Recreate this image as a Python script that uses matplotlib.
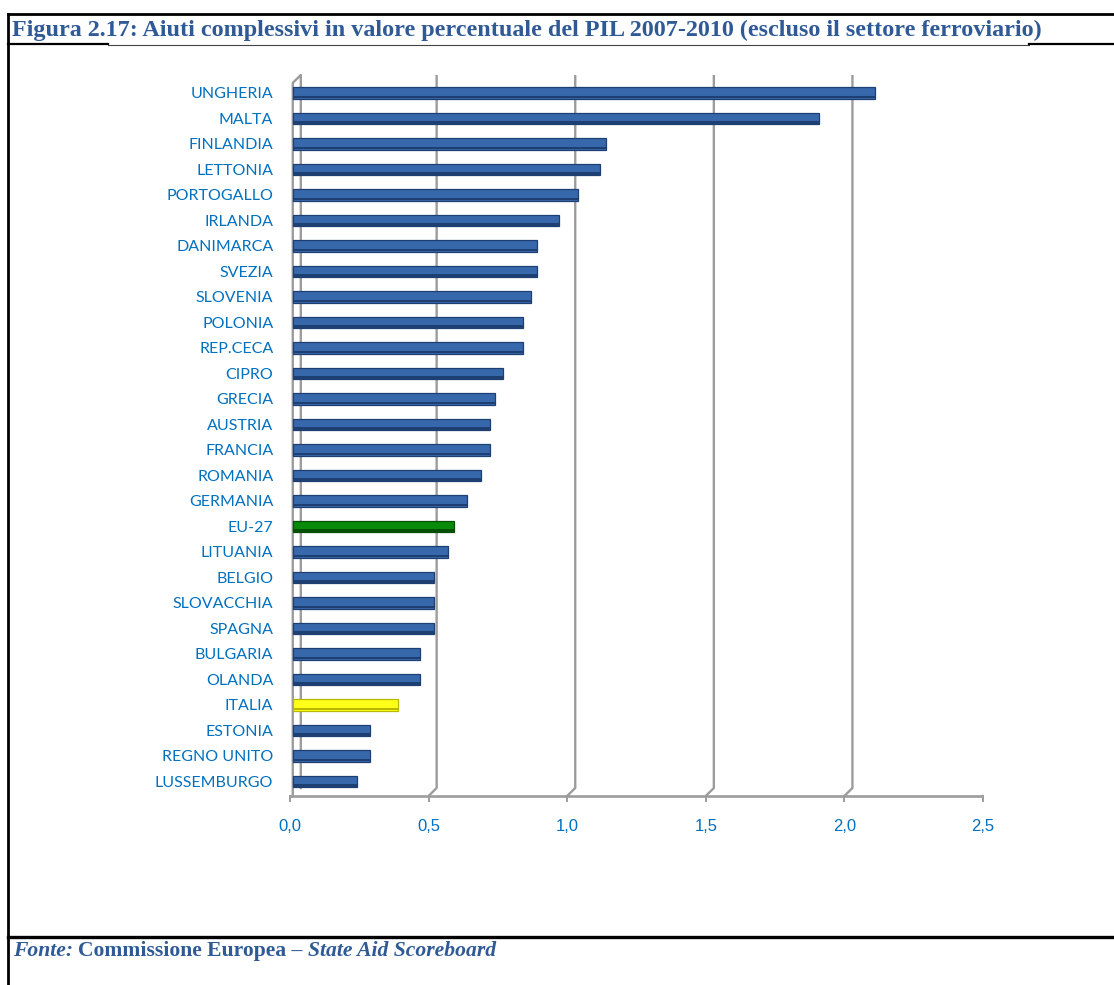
import matplotlib
matplotlib.use("Agg")
from matplotlib import pyplot as plt
from matplotlib.lines import Line2D

# dati: aiuti complessivi in % del PIL, 2007-2010
paesi = ["UNGHERIA", "MALTA", "FINLANDIA", "LETTONIA", "PORTOGALLO", "IRLANDA",
         "DANIMARCA", "SVEZIA", "SLOVENIA", "POLONIA", "REP.CECA", "CIPRO",
         "GRECIA", "AUSTRIA", "FRANCIA", "ROMANIA", "GERMANIA", "EU-27",
         "LITUANIA", "BELGIO", "SLOVACCHIA", "SPAGNA", "BULGARIA", "OLANDA",
         "ITALIA", "ESTONIA", "REGNO UNITO", "LUSSEMBURGO"]
valori = [2.10, 1.90, 1.13, 1.11, 1.03, 0.96, 0.88, 0.88, 0.86, 0.83, 0.83,
          0.76, 0.73, 0.71, 0.71, 0.68, 0.63, 0.58, 0.56, 0.51, 0.51, 0.51,
          0.46, 0.46, 0.38, 0.28, 0.28, 0.23]
xticks = [0.0, 0.5, 1.0, 1.5, 2.0, 2.5]
xtick_labels = ["0,0", "0,5", "1,0", "1,5", "2,0", "2,5"]

titolo = "Figura 2.17: Aiuti complessivi in valore percentuale del PIL 2007-2010 (escluso il settore ferroviario)"

W, H = 1114, 985
fig = plt.figure(figsize=(W / 100, H / 100), dpi=100)
fig.patch.set_facecolor("white")

def px(x, y):
    return x / W, 1 - y / H

# cornice della tabella
def riga(x0, y0, x1, y1, lw=2.0, color="black"):
    a, b = px(x0, y0)
    c, d = px(x1, y1)
    fig.add_artist(Line2D([a, c], [b, d], transform=fig.transFigure, lw=lw, color=color))

riga(8, 14, W, 14)
riga(8, 14, 8, H)
riga(8, 44, 108, 44, lw=1.6)
riga(108, 45, 1029, 45, lw=0.8, color="#444444")
riga(1029, 44, W, 44, lw=1.6)
riga(8, 937, W, 937, lw=2.4)

blu_testo = "#2F5A96"
tx, ty = px(12, 30)
fig.text(tx, ty, titolo, family="Liberation Serif", weight="bold", fontsize=17.4,
         color=blu_testo, va="center", ha="left")

fx, fy = px(13, 951)
t1 = fig.text(fx, fy, "Fonte:", family="Liberation Serif", weight="bold", style="italic",
              fontsize=15.6, color=blu_testo, va="center")
fig.canvas.draw()
bb = t1.get_window_extent()
t2 = fig.text(bb.x1 / W + 5 / W, fy, "Commissione Europea \u2013", family="Liberation Serif",
              weight="bold", fontsize=15.6, color=blu_testo, va="center")
fig.canvas.draw()
bb = t2.get_window_extent()
fig.text(bb.x1 / W + 5 / W, fy, "State Aid Scoreboard", family="Liberation Serif",
         weight="bold", style="italic", fontsize=15.6, color=blu_testo, va="center")

# area del grafico
ax = fig.add_axes([290 / W, 1 - 800 / H, 693 / W, 730 / H])
n = len(paesi)
ax.set_xlim(0, 2.5)
ax.set_ylim(27.73, -0.902)
for s in ax.spines.values():
    s.set_visible(False)

# griglia con effetto 3D (parete di fondo spostata)
grigio = "#9C9C9C"
dx, dy = 0.029, 0.31
y_top, y_floor = -0.706, 27.57
for xv in xticks[1:]:
    ax.plot([xv + dx, xv + dx, xv], [y_top, y_floor - dy, y_floor], color=grigio, lw=1.7,
            solid_capstyle="butt", zorder=1)
    ax.plot([xv, xv], [y_floor, y_floor + 0.2], color=grigio, lw=1.4, zorder=1, clip_on=False)
# parete sinistra
ax.plot([0.01, 0.01, 0.01 + dx, 0.01 + dx], [y_floor, y_top + dy, y_top, y_floor - dy],
        color=grigio, lw=1.7, zorder=1)
ax.plot([0.0, 0.0], [y_floor, y_floor + 0.2], color=grigio, lw=1.4, zorder=1, clip_on=False)
# pavimento
ax.plot([0.0, 2.5], [y_floor, y_floor], color=grigio, lw=1.9, zorder=1)

colori = []
for p in paesi:
    if p == "EU-27":
        colori.append(("#0A8A0A", "#055005"))
    elif p == "ITALIA":
        colori.append(("#FFFF1A", "#B8B800"))
    else:
        colori.append(("#3868AC", "#1E3F72"))

pos = list(range(n))
h = 0.44
for i, (v, (c, e)) in enumerate(zip(valori, colori)):
    ax.barh(i, v, height=h, left=0.01, color=c, edgecolor=e, linewidth=0.9, zorder=3)
    ax.barh(i + h / 2 - 0.06, v, height=0.11, left=0.01, color=e, linewidth=0, zorder=4)

ax.set_yticks(pos)
ax.set_yticklabels(paesi, family="Lato", fontsize=11.5, color="#0070C0")
ax.set_xticks(xticks)
ax.set_xticklabels(xtick_labels, family="Liberation Sans", fontsize=12, color="#0070C0")
ax.tick_params(axis="y", length=0, pad=12)
ax.tick_params(axis="x", length=0, pad=14)

fig.savefig("out.png", dpi=100, facecolor="white")
